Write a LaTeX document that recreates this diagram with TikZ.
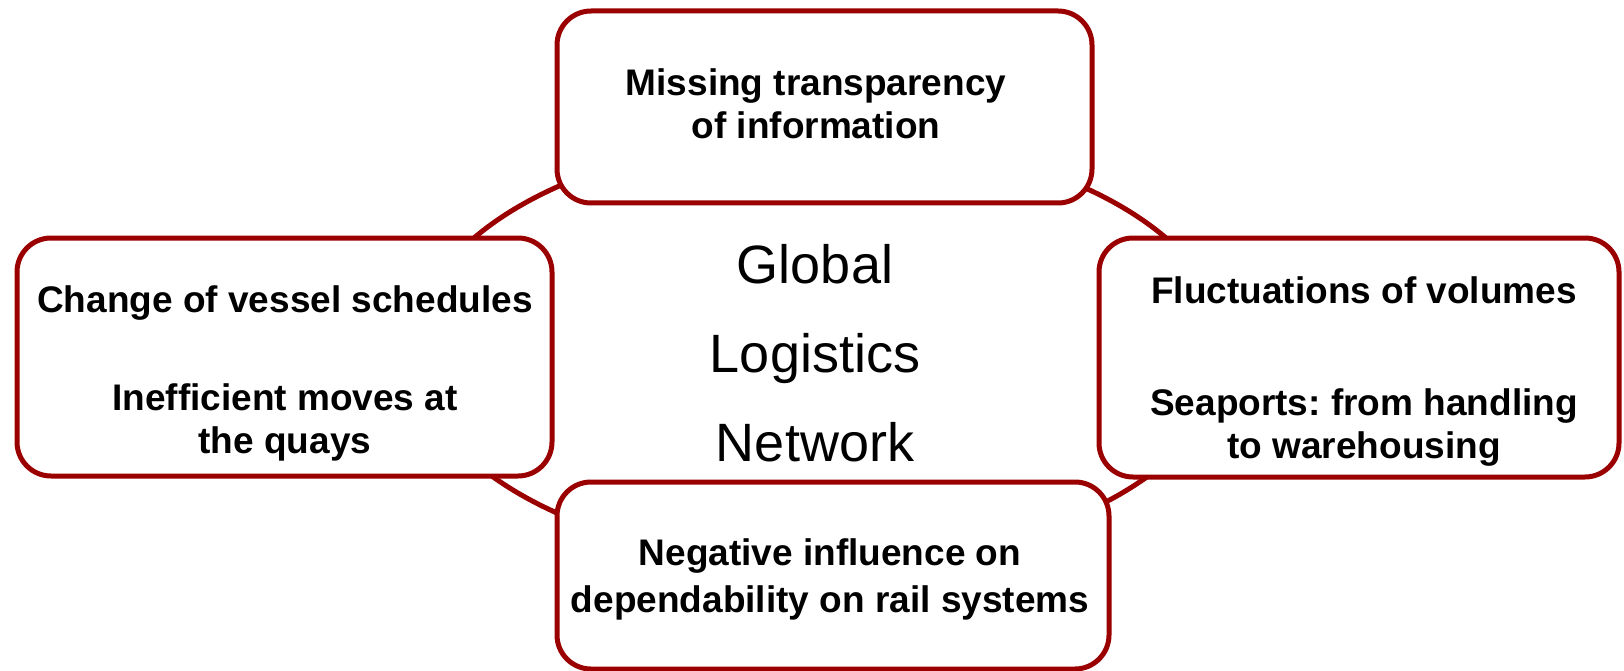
\documentclass[tikz,border=0pt]{standalone}
\usepackage{fontspec}
\setmainfont{Liberation Sans}
\usepackage{tikz}
\usetikzlibrary{positioning}
\frenchspacing
\definecolor{boxred}{RGB}{155,0,0}
\tikzstyle{ring} = [draw=boxred, line width=5pt]
\tikzstyle{issue} = [draw=boxred, line width=5pt, fill=white, rounded corners=34pt, inner sep=0pt]
\tikzstyle{issuetext} = [align=center, anchor=base, inner sep=0pt, font=\bfseries\fontsize{37}{43}\selectfont]

\begin{document}
\begin{tikzpicture}[x=1pt,y=-1pt]

		\useasboundingbox (0,0) rectangle (1624,671);

		% the network behind the boxes
		\draw [ring] (820,350) ellipse (406pt and 214pt);

		\node [issue, minimum width=535pt, minimum height=192pt] (info) at (824.5,107) {};
		\node [issue, minimum width=535pt, minimum height=238pt] (vessel) at (284.5,357) {};
		\node [issue, minimum width=520pt, minimum height=239pt] (volume) at (1359,357.5) {};
		\node [issue, minimum width=552pt, minimum height=187pt] (rail) at (833,575.5) {};

		% base = last line
		\node [issuetext] (infotext) at (816,139) {Missing transparency\\of information};
		\node [issuetext] (vesseltext) at (285,453) {Change of vessel schedules\\[55pt]Inefficient moves at\\the quays};
		\node [issuetext] (volumetext) at (1364,458) {Fluctuations of volumes\\[69pt]Seaports: from handling\\to warehousing};
		\node [issuetext] (railtext) at (830,612) {Negative influence on\\[4pt]dependability on rail systems};

		\node [align=center, anchor=base, inner sep=0pt, font=\fontsize{54}{89}\selectfont] (hub) at (815,461) {Global\\Logistics\\Network};

\end{tikzpicture}
\end{document}
